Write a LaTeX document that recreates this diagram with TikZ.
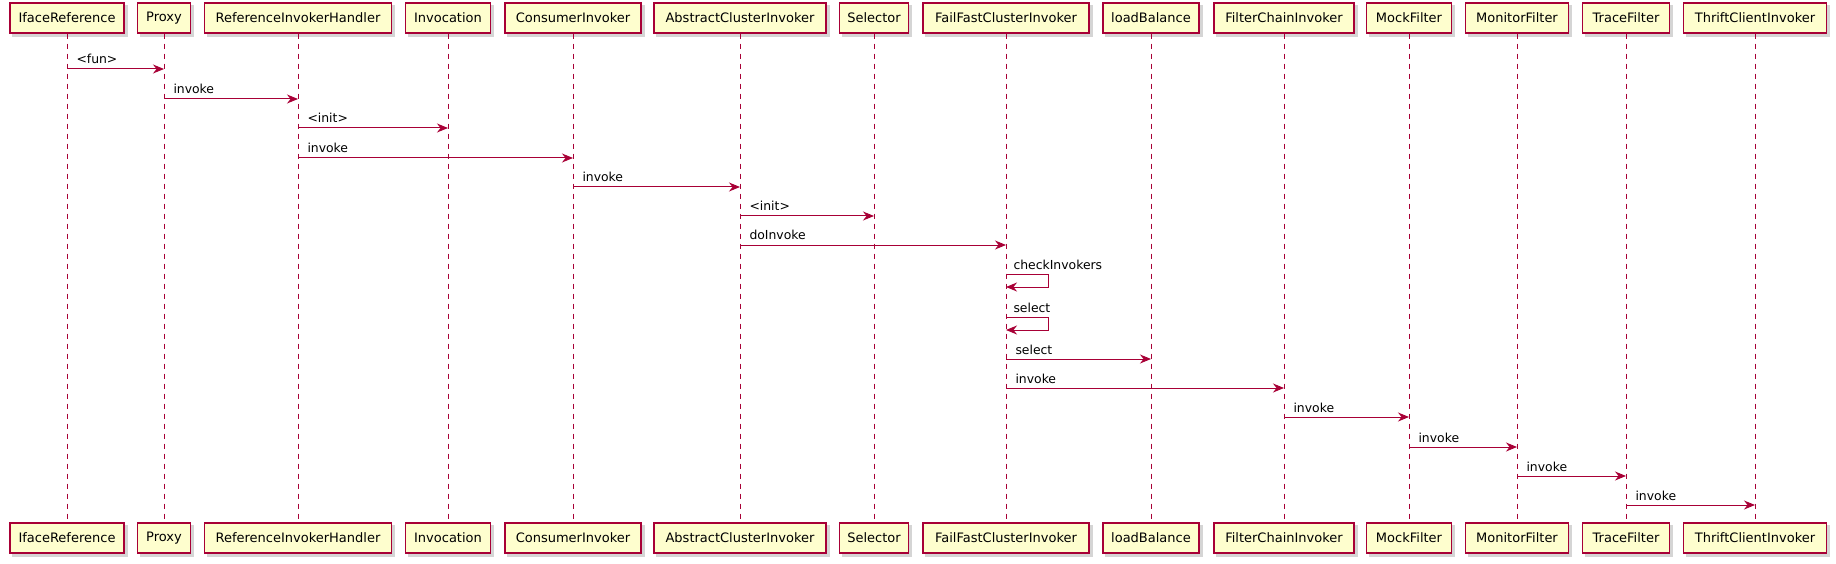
\documentclass[tikz,border=0pt]{standalone}
\usepackage{fontspec}
\setmainfont{DejaVu Sans}
\usetikzlibrary{arrows.meta}
\definecolor{umlred}{HTML}{A80036}
\definecolor{umlfill}{HTML}{FEFECE}
\pgfdeclarelayer{bg}
\pgfsetlayers{bg,main}
\begin{document}
\begin{tikzpicture}[x=1pt,y=1pt,
  part/.style={draw=umlred, line width=1.1pt, fill=umlfill, minimum height=30pt,
    inner sep=0pt, font=\fontsize{13}{15}\selectfont},
  shade/.style={fill=black!55, opacity=0.3},
  life/.style={draw=umlred, line width=0.9pt, dash pattern=on 5pt off 5pt},
  msg/.style={draw=umlred, line width=1pt, -{Stealth[length=11pt,width=9pt,inset=3.5pt]}},
  lbl/.style={font=\fontsize{12.4}{14}\selectfont, inner sep=0pt, anchor=base west, xshift=9pt, yshift=5pt}]
\useasboundingbox (0,0) rectangle (1836,-564);
% participants: name / x / width
\foreach \id/\x/\w/\t in {
  p1/67/114/IfaceReference,
  p2/164/53/Proxy,
  p3/298/187/ReferenceInvokerHandler,
  p4/448/85/Invocation,
  p5/573/136/ConsumerInvoker,
  p6/740/172/AbstractClusterInvoker,
  p7/874/69/Selector,
  p8/1006/166/FailFastClusterInvoker,
  p9/1151/96/loadBalance,
  p10/1284/140/FilterChainInvoker,
  p11/1409/85/MockFilter,
  p12/1517/103/MonitorFilter,
  p13/1626/87/TraceFilter,
  p14/1755/143/ThriftClientInvoker} {
  \node[part, minimum width=\w pt] (\id) at (\x,-18) {\t};
  \node[part, minimum width=\w pt] (\id b) at (\x,-538) {\t};
  \begin{pgfonlayer}{bg}
    \fill[shade] ([shift={(3,-3)}]\id.south west) rectangle ([shift={(3,-3)}]\id.north east);
    \fill[shade] ([shift={(3,-3)}]\id b.south west) rectangle ([shift={(3,-3)}]\id b.north east);
    \draw[life] (\id.south) -- (\id b.north);
  \end{pgfonlayer}
}
% message rows
\foreach \n/\y in {1/69,2/99,3/128,4/158,5/187,6/216,7/245,8/274,8b/287,9/317,9b/330,10/359,11/388,12/417,13/447,14/476,15/505}
  \coordinate (r\n) at (0,-\y);
\draw[msg] (p1 |- r1) -- node[lbl,pos=0] {<fun>} (p2 |- r1);
\draw[msg] (p2 |- r2) -- node[lbl,pos=0] {invoke} (p3 |- r2);
\draw[msg] (p3 |- r3) -- node[lbl,pos=0] {<init>} (p4 |- r3);
\draw[msg] (p3 |- r4) -- node[lbl,pos=0] {invoke} (p5 |- r4);
\draw[msg] (p5 |- r5) -- node[lbl,pos=0] {invoke} (p6 |- r5);
\draw[msg] (p6 |- r6) -- node[lbl,pos=0] {<init>} (p7 |- r6);
\draw[msg] (p6 |- r7) -- node[lbl,pos=0] {doInvoke} (p8 |- r7);
\draw[msg] (p8 |- r8) -- node[lbl,pos=0,xshift=-2pt] {checkInvokers} ++(42,0) |- (p8 |- r8b);
\draw[msg] (p8 |- r9) -- node[lbl,pos=0,xshift=-2pt] {select} ++(42,0) |- (p8 |- r9b);
\draw[msg] (p8 |- r10) -- node[lbl,pos=0] {select} (p9 |- r10);
\draw[msg] (p8 |- r11) -- node[lbl,pos=0] {invoke} (p10 |- r11);
\draw[msg] (p10 |- r12) -- node[lbl,pos=0] {invoke} (p11 |- r12);
\draw[msg] (p11 |- r13) -- node[lbl,pos=0] {invoke} (p12 |- r13);
\draw[msg] (p12 |- r14) -- node[lbl,pos=0] {invoke} (p13 |- r14);
\draw[msg] (p13 |- r15) -- node[lbl,pos=0] {invoke} (p14 |- r15);
\end{tikzpicture}
\end{document}
